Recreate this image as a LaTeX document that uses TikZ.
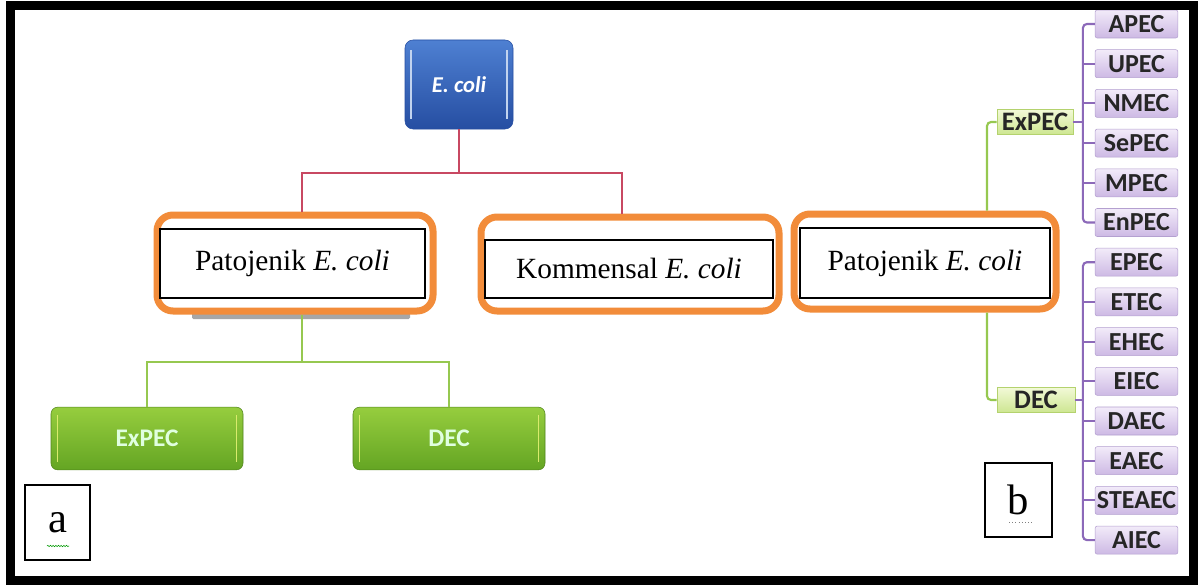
\documentclass[tikz,border=0pt]{standalone}
\usepackage{fontspec}
\setmainfont{Liberation Serif}
\newfontfamily\calib{Carlito}
\usetikzlibrary{decorations.pathmorphing}
\definecolor{ecblue}{RGB}{78,128,210}
\definecolor{ecbluedark}{RGB}{38,78,162}
\definecolor{redline}{RGB}{200,72,98}
\definecolor{orangeline}{RGB}{242,140,58}
\definecolor{greenline}{RGB}{150,200,80}
\definecolor{greentop}{RGB}{150,205,62}
\definecolor{greenbot}{RGB}{100,165,35}
\definecolor{lgreentop}{RGB}{242,249,215}
\definecolor{lgreenbot}{RGB}{205,230,145}
\definecolor{lgreenedge}{RGB}{180,210,110}
\definecolor{purpleline}{RGB}{140,105,185}
\definecolor{purtop}{RGB}{242,235,249}
\definecolor{purbot}{RGB}{205,185,228}
\definecolor{puredge}{RGB}{180,160,208}

\begin{document}
\begin{tikzpicture}[x=0.75pt, y=-0.75pt,
    ecbox/.style={draw=ecbluedark, rounded corners=6pt, top color=ecblue,
      bottom color=ecbluedark, minimum width=81pt, minimum height=66.75pt,
      text=white, font=\calib\bfseries\itshape\fontsize{17}{18}\selectfont},
    obox/.style={draw=orangeline, line width=5.25pt, rounded corners=12pt,
      fill=white},
    inbox/.style={draw=black, line width=1.6pt, fill=white,
      font=\fontsize{22}{24}\selectfont},
    gbox/.style={draw=greenbot!80!black, rounded corners=5pt, top color=greentop,
      bottom color=greenbot, minimum width=144pt, minimum height=47pt,
      text=white!88!green, font=\calib\bfseries\fontsize{19}{20}\selectfont},
    lgbox/.style={draw=lgreenedge, top color=lgreentop, bottom color=lgreenbot,
      minimum height=18.75pt, inner sep=0pt, text=black!85,
      font=\calib\bfseries\fontsize{20}{20}\selectfont},
    pbox/.style={draw=puredge, rounded corners=1.5pt, top color=purtop,
      bottom color=purbot, minimum width=62pt, minimum height=21pt,
      inner sep=0pt, text=black!85,
      font=\calib\bfseries\fontsize{19.5}{20}\selectfont},
    tagbox/.style={draw=black, line width=1.5pt, fill=white,
      font=\fontsize{32}{34}\selectfont},
    redconn/.style={draw=redline, line width=1.6pt},
    greenconn/.style={draw=greenline, line width=1.6pt},
    purpconn/.style={draw=purpleline, line width=1.6pt, rounded corners=3pt}]
    \useasboundingbox (0,0) rectangle (1198,585);
    \fill[white] (0,0) rectangle (1198,585);
    % root
    \node[ecbox] (ecoli) at (459,84.5) {E. coli};
    \draw[white!65!ecblue, line width=1.5pt]
      ([xshift=4.5pt,yshift=-8pt]ecoli.north west) -- ([xshift=4.5pt,yshift=8pt]ecoli.south west);
    \draw[white!65!ecblue, line width=1.5pt]
      ([xshift=-4.5pt,yshift=-8pt]ecoli.north east) -- ([xshift=-4.5pt,yshift=8pt]ecoli.south east);
    % shadow under left box
    \fill[gray!70, rounded corners=1pt] (192,313) rectangle (410,319);
    % orange frames
    \node[obox, minimum width=207pt, minimum height=72pt] (patoA) at (295,263) {};
    \node[obox, minimum width=223.5pt, minimum height=70.5pt] (komm) at (630,264) {};
    \node[obox, minimum width=196.5pt, minimum height=71.25pt] (patoB) at (925,261.5) {};
    % texts in black boxes
    \node[inbox, minimum width=198.75pt, minimum height=51.75pt] (patoAtxt) at (292.5,263.5) {Patojenik \textit{E. coli}};
    \node[inbox, minimum width=216pt, minimum height=43.5pt] (kommtxt) at (629,269) {Kommensal \textit{E. coli}};
    \node[inbox, minimum width=187.5pt, minimum height=52.5pt] (patoBtxt) at (925,263) {Patojenik \textit{E. coli}};
    % red connectors
    \coordinate (rootjoin) at (459,173);
    \draw[redconn] (ecoli.south) -- (rootjoin);
    \draw[redconn] (rootjoin) -| ([xshift=5.25pt]patoA.north);
    \draw[redconn] (rootjoin) -| ([xshift=-6pt]komm.north);
    % left pathotypes
    \node[gbox] (expecA) at (147,438.5) {ExPEC};
    \node[gbox] (decA) at (449,438.5) {DEC};
    \foreach \b in {expecA,decA}{
      \draw[yellow!75!green!60, line width=1.3pt]
        ([xshift=5pt,yshift=-6pt]\b.north west) -- ([xshift=5pt,yshift=6pt]\b.south west);
      \draw[yellow!75!green!60, line width=1.3pt]
        ([xshift=-5pt,yshift=-6pt]\b.north east) -- ([xshift=-5pt,yshift=6pt]\b.south east);
    }
    \coordinate (greenjoin) at (302,362);
    \draw[greenconn] ([xshift=5.25pt]patoA.south) -- (greenjoin);
    \draw[greenconn] (greenjoin) -| (expecA.north);
    \draw[greenconn] (greenjoin) -| (decA.north);
    % right tree
    \node[lgbox, minimum width=57pt] (expecB) at (1035,122) {ExPEC};
    \node[lgbox, minimum width=58.5pt] (decB) at (1036,400) {DEC};
    \draw[greenconn, rounded corners=3pt] ([xshift=46.5pt]patoB.north) |- (expecB.west);
    \draw[greenconn, rounded corners=3pt] ([xshift=46.5pt]patoB.south) |- (decB.west);
    \foreach \lab [count=\i from 0] in {APEC,UPEC,NMEC,SePEC,MPEC,EnPEC,
        EPEC,ETEC,EHEC,EIEC,DAEC,EAEC,STEAEC,AIEC}
      \node[pbox] (p\i) at (1136.5,{24+39.7*\i}) {\lab};
    % purple brackets
    \draw[purpconn] (p0.west) -- ++(-9pt,0) |- (p5.west);
    \draw[purpconn] (p6.west) -- ++(-9pt,0) |- (p13.west);
    \foreach \i in {1,...,4,7,8,...,12}
      \draw[purpconn] (p\i.west) -- ++(-9pt,0);
    \draw[purpconn] (expecB.east) -- ([xshift=-9pt]expecB.east -| p0.west);
    \draw[purpconn] (decB.east) -- ([xshift=-9pt]decB.east -| p0.west);
    % panel tags
    \node[tagbox, minimum width=48.75pt, minimum height=56.25pt] (taga) at (57.5,522.5) {a};
    \node[tagbox, minimum width=50pt, minimum height=55.5pt] (tagb) at (1018.5,500) {b};
    \draw[green!60!black, line width=0.4pt, decorate,
      decoration={snake, amplitude=0.5pt, segment length=2pt}] (47,546) -- (69,546);
    \draw[gray, line width=0.4pt, dotted] (1009,522) -- (1033,522);
    % outer frame
    \draw[line width=6.75pt] (10.5,5.5) rectangle (1193.5,580.5);
\end{tikzpicture}
\end{document}
